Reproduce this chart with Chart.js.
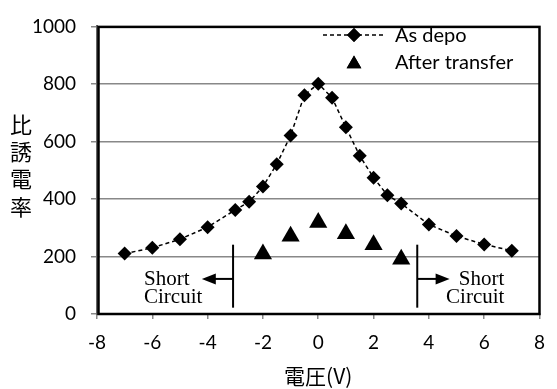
<!DOCTYPE html>
<html><head><meta charset="utf-8">
<script src="https://cdn.jsdelivr.net/npm/chart.js@4/dist/chart.umd.min.js"></script>
<style>html,body{margin:0;padding:0;background:#fff}#wrap{width:557px;height:389px}</style>
</head><body><div id="wrap"><canvas id="c" width="557" height="389"></canvas></div>
<script>
const voltsDepo = [-7,-6,-5,-4,-3,-2.5,-2,-1.5,-1,-0.5,0,0.5,1,1.5,2,2.5,3,4,5,6,7];
const asDepo = [210,230,260,302,362,390,443,521,621,761,801,752,649,550,474,413,384,311,271,242,220];
const voltsTransfer = [-2,-1,0,1,2,3];
const afterTransfer = [209,270,318,279,241,190];
const xTicks = [-8,-6,-4,-2,0,2,4,6,8];
const yTicks = [0,200,400,600,800,1000];
const seriesNames = ['As depo','After transfer'];
const yTitle = ['比','誘','電','率'];
const xTitle = '電圧(V)';
const shortLabel = ['Short','Circuit'];

const sans = 'Lato, "Noto Sans", sans-serif';
const cjk = '"Noto Sans CJK JP", sans-serif';

const deco = {
  id:'deco',
  afterDraw(chart){
    const {ctx, chartArea:a, scales:{x,y}} = chart;
    ctx.save();
    ctx.strokeStyle='#000'; ctx.lineWidth=2.5;
    ctx.strokeRect(a.left+1.5, a.top+0.5, a.right-a.left-1.5, a.bottom-a.top-0.5);
    ctx.fillStyle='#000';
    ctx.font='22px '+cjk; ctx.textAlign='center'; ctx.textBaseline='middle';
    const ys=[125,152,179,207];
    yTitle.forEach((ch,i)=>ctx.fillText(ch,21,ys[i]));
    ctx.font='21px '+cjk;
    ctx.fillText(xTitle,(a.left+a.right)/2,376);
    const ly1=35, ly2=62;
    ctx.strokeStyle='#000'; ctx.lineWidth=1.5; ctx.setLineDash([4,3]);
    ctx.beginPath(); ctx.moveTo(323,ly1); ctx.lineTo(385,ly1); ctx.stroke();
    ctx.setLineDash([]);
    Chart.helpers.drawPoint(ctx,{pointStyle:'rectRot',radius:7,rotation:0,borderWidth:0},354,ly1);
    ctx.fill();
    Chart.helpers.drawPoint(ctx,{pointStyle:'triangle',radius:8.5,rotation:0,borderWidth:0},354,ly2+2);
    ctx.fill();
    ctx.font='20px '+sans; ctx.textAlign='left'; ctx.textBaseline='middle';
    ctx.fillText(seriesNames[0],395,ly1+1);
    ctx.fillText(seriesNames[1],395,ly2+1);
    ctx.lineWidth=2; ctx.strokeStyle='#000';
    const yTop=y.getPixelForValue(241), yBot=y.getPixelForValue(22), yArr=y.getPixelForValue(122);
    function marker(xv, tipv){
      const px=x.getPixelForValue(xv), tip=x.getPixelForValue(tipv);
      ctx.beginPath(); ctx.moveTo(px,yTop); ctx.lineTo(px,yBot); ctx.stroke();
      const dir = tip<px?-1:1;
      ctx.beginPath(); ctx.moveTo(px,yArr); ctx.lineTo(tip-dir*12,yArr); ctx.stroke();
      ctx.beginPath(); ctx.moveTo(tip,yArr); ctx.lineTo(tip-dir*14,yArr-5.5); ctx.lineTo(tip-dir*14,yArr+5.5); ctx.closePath(); ctx.fill();
    }
    marker(-3.08,-4.21);
    marker(3.58,4.75);
    ctx.font='21px "Liberation Serif", serif'; ctx.textBaseline='alphabetic';
    ctx.textAlign='left';
    ctx.fillText(shortLabel[0],x.getPixelForValue(-6.3),285);
    ctx.fillText(shortLabel[1],x.getPixelForValue(-6.3),303);
    ctx.textAlign='right';
    ctx.fillText(shortLabel[0],x.getPixelForValue(6.73),285);
    ctx.fillText(shortLabel[1],x.getPixelForValue(6.73),303);
    ctx.restore();
  }
};

new Chart(document.getElementById('c'),{
  type:'line',
  data:{datasets:[
    {label:seriesNames[0],data:voltsDepo.map((v,i)=>({x:v,y:asDepo[i]})),
     borderColor:'#000',backgroundColor:'#000',borderWidth:1.5,borderDash:[4,3],
     pointStyle:'rectRot',pointRadius:7,pointBorderWidth:0,tension:0},
    {label:seriesNames[1],data:voltsTransfer.map((v,i)=>({x:v,y:afterTransfer[i]})),
     showLine:false,borderColor:'#000',backgroundColor:'#000',
     pointStyle:'triangle',pointRadius:10.5,pointBorderWidth:0}
  ]},
  options:{
    responsive:false,animation:false,
    layout:{padding:{top:20,right:8,left:0,bottom:0}},
    plugins:{legend:{display:false},tooltip:{enabled:false}},
    scales:{
      x:{type:'linear',min:-8,max:8,
        afterBuildTicks(s){s.ticks=xTicks.map(v=>({value:v}));},
        afterFit(s){s.height=75;},
        grid:{drawOnChartArea:false,color:'#888',lineWidth:1.5,tickLength:5},
        border:{color:'#666',width:2},
        ticks:{font:{family:sans,size:19},color:'#000',padding:12,maxRotation:0,callback:v=>String(v)}},
      y:{min:0,max:1000,
        afterBuildTicks(s){s.ticks=yTicks.map(v=>({value:v}));},
        afterFit(s){s.width=97;},
        grid:{color:'#888',lineWidth:1.5,tickLength:6},
        border:{color:'#666',width:2},
        ticks:{font:{family:sans,size:19},color:'#000',padding:15,callback:v=>String(v)}}
    }
  },
  plugins:[deco]
});
</script></body></html>
